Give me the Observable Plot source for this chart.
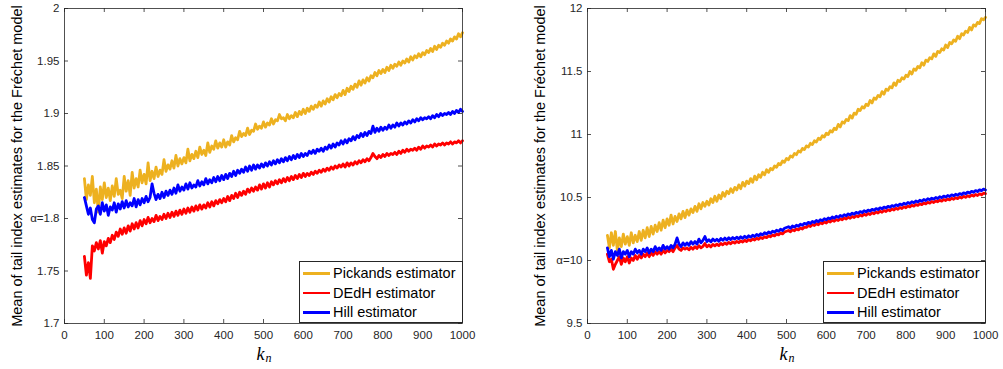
<!DOCTYPE html>
<html><head><meta charset="utf-8">
<script src="https://cdn.jsdelivr.net/npm/d3@7"></script>
<script src="https://cdn.jsdelivr.net/npm/@observablehq/plot@0.6"></script>
<style>
body{margin:0;background:#fff;}
#wrap{position:relative;width:1003px;height:369px;font-family:"Liberation Sans",Arial,sans-serif;overflow:hidden;}
.panel{position:absolute;top:0;}
.legend{position:absolute;box-sizing:border-box;border:1px solid #262626;background:#fff;font-size:14.5px;color:#000;}
.row{position:absolute;left:0;height:18px;line-height:18px;white-space:nowrap;}
.sw{position:absolute;left:3px;top:8px;width:27px;height:2.5px;}
.lb{position:absolute;left:33px;top:0;}
</style></head><body><div id="wrap"></div>
<script>
// k_n values (x axis)
const kValues = d3.range(50, 1001, 5);
const xTicks = [0,100,200,300,400,500,600,700,800,900,1000];
const seriesNames = ["Pickands estimator","DEdH estimator","Hill estimator"];
const seriesColors = ["#EDB120","#FF0000","#0000FF"];
const yAxisLabel = "Mean of tail index estimates for the Fréchet model";

// Left panel (alpha = 1.8)
const leftTicks = [1.7,1.75,1.8,1.85,1.9,1.95,2];
const leftTickLabels = ["1.7","1.75","α=1.8","1.85","1.9","1.95","2"];
const leftPickands = [
1.838,1.818,1.832,1.822,1.840,1.815,1.828,1.806,1.830,1.818,
1.834,1.820,1.829,1.817,1.831,1.821,1.838,1.823,1.827,1.819,
1.840,1.826,1.836,1.822,1.844,1.829,1.838,1.830,1.846,1.834,
1.842,1.833,1.853,1.836,1.845,1.838,1.849,1.840,1.846,1.842,
1.856,1.845,1.851,1.847,1.855,1.848,1.860,1.850,1.857,1.852,
1.858,1.853,1.866,1.855,1.861,1.857,1.864,1.858,1.868,1.861,
1.865,1.860,1.872,1.863,1.869,1.866,1.874,1.867,1.872,1.868,
1.875,1.868,1.873,1.870,1.879,1.873,1.877,1.875,1.883,1.878,
1.881,1.879,1.886,1.880,1.884,1.883,1.890,1.885,1.888,1.886,
1.892,1.887,1.891,1.889,1.895,1.890,1.894,1.893,1.899,1.895,
1.896,1.893,1.899,1.895,1.898,1.896,1.901,1.897,1.902,1.899,
1.904,1.900,1.905,1.902,1.907,1.904,1.908,1.906,1.911,1.907,
1.912,1.909,1.914,1.911,1.916,1.913,1.918,1.915,1.919,1.917,
1.922,1.918,1.924,1.921,1.926,1.923,1.928,1.925,1.931,1.927,
1.932,1.929,1.934,1.931,1.936,1.934,1.939,1.936,1.941,1.938,
1.942,1.939,1.944,1.941,1.946,1.943,1.947,1.945,1.949,1.946,
1.950,1.948,1.952,1.949,1.954,1.951,1.955,1.953,1.957,1.954,
1.958,1.956,1.960,1.958,1.962,1.959,1.964,1.961,1.965,1.963,
1.967,1.965,1.969,1.967,1.971,1.969,1.973,1.971,1.976,1.973,
1.977];
const leftDEdH = [
1.764,1.746,1.758,1.743,1.774,1.769,1.777,1.771,1.779,1.767,
1.778,1.774,1.781,1.777,1.784,1.780,1.787,1.783,1.790,1.785,
1.791,1.786,1.793,1.788,1.795,1.790,1.796,1.791,1.798,1.793,
1.799,1.795,1.801,1.796,1.800,1.797,1.803,1.798,1.802,1.799,
1.804,1.800,1.805,1.801,1.806,1.802,1.807,1.803,1.808,1.804,
1.809,1.805,1.810,1.806,1.811,1.807,1.812,1.808,1.813,1.809,
1.813,1.810,1.815,1.811,1.816,1.812,1.817,1.814,1.818,1.815,
1.819,1.816,1.821,1.817,1.822,1.819,1.824,1.820,1.825,1.822,
1.826,1.823,1.828,1.825,1.829,1.826,1.830,1.827,1.832,1.828,
1.833,1.829,1.834,1.830,1.835,1.832,1.836,1.833,1.837,1.834,
1.838,1.835,1.839,1.836,1.840,1.837,1.841,1.838,1.842,1.839,
1.843,1.840,1.843,1.841,1.844,1.842,1.845,1.843,1.846,1.844,
1.847,1.845,1.848,1.846,1.849,1.847,1.850,1.848,1.851,1.849,
1.852,1.849,1.853,1.850,1.853,1.851,1.854,1.852,1.855,1.853,
1.856,1.854,1.857,1.855,1.858,1.862,1.859,1.857,1.860,1.858,
1.861,1.859,1.862,1.860,1.862,1.861,1.863,1.861,1.864,1.862,
1.865,1.863,1.866,1.864,1.866,1.865,1.867,1.865,1.868,1.866,
1.869,1.867,1.869,1.868,1.870,1.868,1.871,1.869,1.871,1.870,
1.872,1.870,1.872,1.871,1.873,1.871,1.873,1.872,1.874,1.872,
1.874];
const leftHill = [
1.820,1.812,1.804,1.810,1.799,1.796,1.809,1.812,1.804,1.815,
1.807,1.813,1.803,1.811,1.808,1.815,1.806,1.814,1.809,1.816,
1.810,1.817,1.811,1.815,1.812,1.819,1.811,1.818,1.813,1.819,
1.815,1.821,1.816,1.820,1.833,1.824,1.818,1.823,1.819,1.825,
1.820,1.826,1.822,1.827,1.823,1.829,1.824,1.832,1.826,1.830,
1.827,1.833,1.828,1.834,1.829,1.832,1.830,1.836,1.831,1.835,
1.832,1.838,1.833,1.837,1.834,1.839,1.835,1.840,1.836,1.841,
1.837,1.842,1.838,1.843,1.840,1.845,1.841,1.846,1.843,1.847,
1.844,1.849,1.845,1.850,1.846,1.851,1.847,1.851,1.848,1.852,
1.849,1.853,1.850,1.854,1.851,1.855,1.852,1.856,1.853,1.857,
1.854,1.858,1.855,1.859,1.856,1.860,1.857,1.861,1.858,1.862,
1.859,1.862,1.860,1.864,1.862,1.865,1.862,1.866,1.864,1.867,
1.864,1.868,1.866,1.870,1.867,1.871,1.868,1.872,1.870,1.874,
1.871,1.875,1.872,1.876,1.874,1.878,1.875,1.879,1.877,1.881,
1.878,1.882,1.879,1.883,1.881,1.888,1.882,1.886,1.883,1.887,
1.884,1.887,1.885,1.889,1.886,1.889,1.887,1.891,1.888,1.891,
1.889,1.892,1.890,1.893,1.891,1.894,1.892,1.895,1.893,1.896,
1.894,1.896,1.895,1.897,1.895,1.898,1.896,1.899,1.897,1.900,
1.898,1.900,1.899,1.901,1.899,1.902,1.900,1.903,1.901,1.904,
1.902];

// Right panel (alpha = 10)
const rightTicks = [9.5,10,10.5,11,11.5,12];
const rightTickLabels = ["9.5","α=10","10.5","11","11.5","12"];
const rightPickands = [
10.20,10.10,10.22,10.12,10.23,10.08,10.18,10.11,10.21,10.13,
10.19,10.12,10.22,10.14,10.20,10.15,10.23,10.16,10.24,10.18,
10.26,10.19,10.27,10.21,10.28,10.23,10.30,10.24,10.32,10.26,
10.33,10.28,10.36,10.29,10.35,10.31,10.37,10.33,10.39,10.34,
10.40,10.36,10.41,10.38,10.43,10.39,10.45,10.41,10.46,10.43,
10.47,10.44,10.49,10.46,10.51,10.47,10.52,10.49,10.54,10.51,
10.55,10.53,10.57,10.54,10.58,10.56,10.60,10.57,10.62,10.59,
10.63,10.61,10.65,10.62,10.67,10.64,10.68,10.66,10.70,10.68,
10.72,10.70,10.73,10.72,10.75,10.74,10.77,10.76,10.79,10.78,
10.81,10.80,10.83,10.82,10.85,10.84,10.87,10.86,10.89,10.88,
10.91,10.90,10.93,10.92,10.95,10.94,10.97,10.96,10.99,10.98,
11.01,11.00,11.03,11.02,11.05,11.04,11.08,11.06,11.10,11.09,
11.12,11.11,11.15,11.13,11.17,11.16,11.20,11.19,11.22,11.21,
11.24,11.23,11.27,11.25,11.29,11.28,11.31,11.30,11.34,11.32,
11.36,11.35,11.38,11.37,11.41,11.39,11.43,11.42,11.45,11.44,
11.47,11.46,11.50,11.48,11.52,11.51,11.54,11.53,11.57,11.55,
11.59,11.58,11.61,11.60,11.64,11.62,11.66,11.65,11.68,11.67,
11.71,11.69,11.73,11.72,11.75,11.74,11.78,11.76,11.80,11.79,
11.82,11.81,11.85,11.83,11.87,11.86,11.89,11.88,11.92,11.91,
11.93];
const rightDEdH = [
10.05,9.99,10.01,9.93,9.97,10.00,10.03,9.97,10.02,9.99,
10.03,9.98,10.02,10.00,10.04,10.01,10.04,10.02,10.05,10.03,
10.06,10.03,10.06,10.04,10.07,10.05,10.07,10.05,10.08,10.06,
10.08,10.07,10.09,10.07,10.10,10.12,10.09,10.08,10.10,10.09,
10.10,10.085,10.105,10.09,10.11,10.095,10.118,10.10,10.112,10.135,
10.108,10.123,10.108,10.128,10.116,10.130,10.118,10.136,10.124,10.140,
10.128,10.144,10.133,10.148,10.138,10.152,10.142,10.156,10.146,10.161,
10.151,10.166,10.156,10.171,10.162,10.177,10.168,10.183,10.174,10.189,
10.181,10.196,10.188,10.203,10.195,10.210,10.203,10.218,10.211,10.226,
10.232,10.238,10.228,10.244,10.236,10.251,10.243,10.258,10.250,10.265,
10.263,10.278,10.270,10.285,10.277,10.292,10.284,10.299,10.291,10.306,
10.298,10.313,10.305,10.319,10.311,10.325,10.317,10.331,10.323,10.337,
10.329,10.343,10.335,10.349,10.341,10.355,10.347,10.361,10.353,10.367,
10.359,10.373,10.365,10.379,10.371,10.385,10.377,10.391,10.383,10.397,
10.389,10.403,10.395,10.409,10.401,10.415,10.407,10.421,10.413,10.427,
10.419,10.433,10.425,10.439,10.431,10.445,10.437,10.451,10.443,10.457,
10.449,10.462,10.455,10.468,10.460,10.473,10.466,10.479,10.471,10.484,
10.476,10.489,10.481,10.494,10.486,10.499,10.491,10.504,10.496,10.509,
10.501,10.514,10.506,10.519,10.511,10.524,10.516,10.529,10.521,10.534,
10.530];
const rightHill = [
10.10,10.03,10.08,10.01,10.07,10.04,10.09,10.02,10.07,10.05,
10.08,10.03,10.07,10.05,10.09,10.06,10.08,10.05,10.09,10.07,
10.10,10.06,10.09,10.07,10.11,10.08,10.10,10.08,10.12,10.09,
10.11,10.09,10.12,10.10,10.13,10.18,10.13,10.11,10.14,10.12,
10.14,10.12,10.15,10.13,10.15,10.13,10.17,10.14,10.16,10.19,
10.150,10.165,10.148,10.170,10.155,10.168,10.152,10.175,10.160,10.178,
10.163,10.180,10.166,10.182,10.170,10.185,10.172,10.188,10.176,10.192,
10.180,10.196,10.185,10.200,10.190,10.206,10.196,10.212,10.203,10.220,
10.210,10.226,10.216,10.233,10.224,10.240,10.231,10.248,10.238,10.256,
10.262,10.268,10.256,10.274,10.265,10.280,10.272,10.288,10.279,10.295,
10.287,10.303,10.294,10.310,10.301,10.317,10.308,10.324,10.316,10.332,
10.323,10.338,10.330,10.345,10.336,10.351,10.342,10.357,10.349,10.363,
10.355,10.370,10.361,10.376,10.367,10.382,10.374,10.388,10.380,10.395,
10.386,10.400,10.392,10.406,10.398,10.412,10.404,10.418,10.410,10.424,
10.416,10.430,10.422,10.436,10.428,10.442,10.434,10.448,10.440,10.454,
10.446,10.460,10.452,10.466,10.458,10.472,10.464,10.478,10.470,10.484,
10.476,10.490,10.482,10.495,10.487,10.500,10.492,10.506,10.498,10.511,
10.503,10.516,10.508,10.521,10.513,10.526,10.518,10.531,10.523,10.537,
10.529,10.543,10.535,10.549,10.541,10.555,10.547,10.561,10.553,10.567,
10.560];

const FONT = '"Liberation Sans", Arial, Helvetica, sans-serif';
const SERIF = '"Liberation Serif", "DejaVu Serif", serif';
const AX = "#262626";

function makePanel(cfg) {
  const H = 369, mt = 8, mb = 46;
  const iw = cfg.width - cfg.ml - cfg.mr, ih = H - mt - mb;
  const labelMap = new Map(cfg.ticks.map((t, i) => [t, cfg.tickLabels[i]]));
  const series = [cfg.pickands, cfg.dedh, cfg.hill];
  return Plot.plot({
    width: cfg.width, height: H,
    marginLeft: cfg.ml, marginRight: cfg.mr, marginTop: mt, marginBottom: mb,
    style: {fontFamily: FONT, fontSize: "11.5px", color: AX, background: "white", overflow: "visible"},
    x: {domain: [0, 1000]},
    y: {domain: cfg.domain},
    marks: [
      ...series.map((s, i) => Plot.lineY(s, {x: kValues, y: d => d, stroke: seriesColors[i], strokeWidth: 2.8, strokeLinejoin: "round"})),
      Plot.frame({stroke: AX, strokeWidth: 0.8}),
      Plot.tickX(xTicks, {x: d => d, stroke: AX, strokeWidth: 0.8, insetTop: ih - 4}),
      Plot.tickX(xTicks, {x: d => d, stroke: AX, strokeWidth: 0.8, insetBottom: ih - 4}),
      Plot.tickY(cfg.ticks, {y: d => d, stroke: AX, strokeWidth: 0.8, insetRight: iw - 4}),
      Plot.tickY(cfg.ticks, {y: d => d, stroke: AX, strokeWidth: 0.8, insetLeft: iw - 4}),
      Plot.axisX({ticks: xTicks, tickSize: 0, tickPadding: 7, label: null, tickFormat: d => String(d), fill: AX}),
      Plot.axisY({ticks: cfg.ticks, tickSize: 0, tickPadding: 5, label: null, tickFormat: d => labelMap.get(d), fill: AX}),
      Plot.text([yAxisLabel], {text: d => d, frameAnchor: "left", textAnchor: "middle", lineAnchor: "middle", rotate: -90, dx: -47, fontSize: 14.5, fill: "#000", fontFamily: FONT}),
      Plot.text(["k"], {text: d => d, frameAnchor: "bottom", textAnchor: "middle", lineAnchor: "middle", dx: -3, dy: 31, fontSize: 18, fontStyle: "italic", fontFamily: SERIF, fill: "#000"}),
      Plot.text(["n"], {text: d => d, frameAnchor: "bottom", textAnchor: "middle", lineAnchor: "middle", dx: 5, dy: 35, fontSize: 12, fontStyle: "italic", fontFamily: SERIF, fill: "#000"})
    ]
  });
}

function makeLegend(left, top, width) {
  const lg = document.createElement("div");
  lg.className = "legend";
  lg.style.left = left + "px"; lg.style.top = top + "px";
  lg.style.width = width + "px"; lg.style.height = "62px";
  seriesNames.forEach((name, i) => {
    const row = document.createElement("div");
    row.className = "row";
    row.style.top = (2 + i * 19.5) + "px";
    row.style.width = "100%";
    const sw = document.createElement("div");
    sw.className = "sw"; sw.style.background = seriesColors[i];
    const lb = document.createElement("div");
    lb.className = "lb"; lb.textContent = name;
    row.appendChild(sw); row.appendChild(lb);
    lg.appendChild(row);
  });
  return lg;
}

const wrap = document.getElementById("wrap");
const panels = [
  {x0: 0, width: 480, ml: 64, mr: 18, domain: [1.7, 2], ticks: leftTicks, tickLabels: leftTickLabels,
   pickands: leftPickands, dedh: leftDEdH, hill: leftHill, legendLeft: 299},
  {x0: 500, width: 503, ml: 87, mr: 18, domain: [9.5, 12], ticks: rightTicks, tickLabels: rightTickLabels,
   pickands: rightPickands, dedh: rightDEdH, hill: rightHill, legendLeft: 823}
];
panels.forEach(cfg => {
  const div = document.createElement("div");
  div.className = "panel";
  div.style.left = cfg.x0 + "px";
  div.appendChild(makePanel(cfg));
  wrap.appendChild(div);
  wrap.appendChild(makeLegend(cfg.legendLeft, 261, cfg.x0 + cfg.width - cfg.mr - cfg.legendLeft + 1));
});
</script></body></html>
